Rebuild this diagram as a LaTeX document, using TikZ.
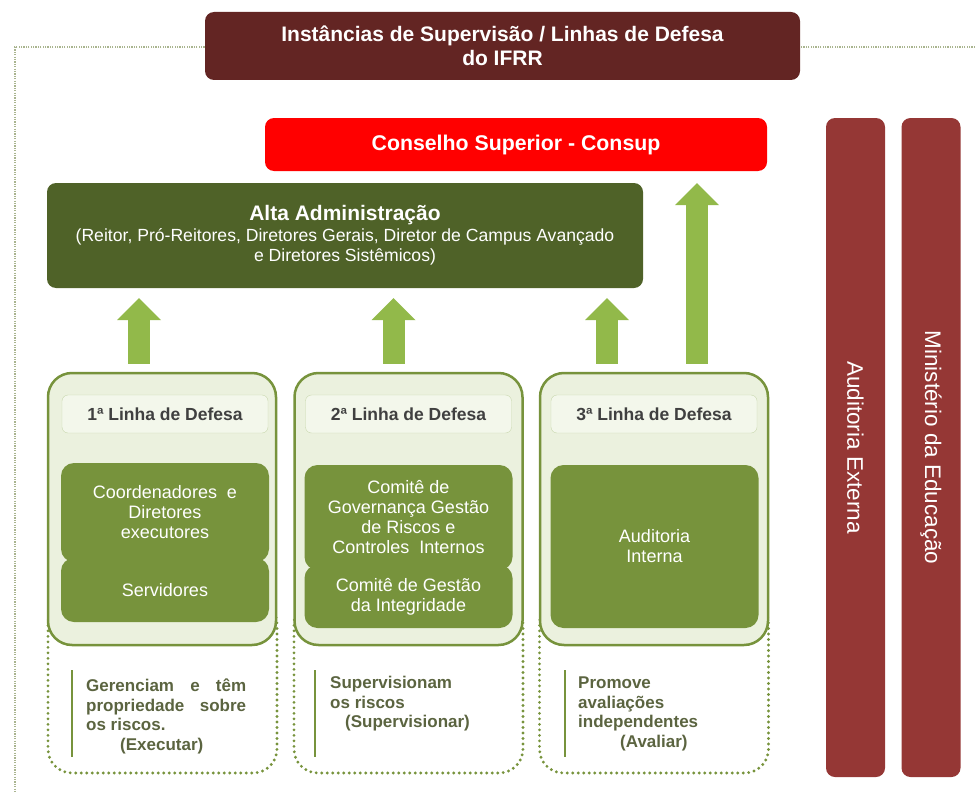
\documentclass[tikz,border=0pt]{standalone}
\usepackage{fontspec}
\setmainfont{Liberation Sans}
\usetikzlibrary{arrows.meta}

\definecolor{vinho}{HTML}{632523}
\definecolor{vermelho}{HTML}{FF0000}
\definecolor{verdeescuro}{HTML}{4F6228}
\definecolor{verdemedio}{HTML}{77933C}
\definecolor{verdeclaro}{HTML}{EBF1DE}
\definecolor{verdeborda}{HTML}{C9D8AE}
\definecolor{verdeseta}{HTML}{92B94A}
\definecolor{tijolo}{HTML}{953735}
\definecolor{cinza}{HTML}{404040}
\definecolor{textolinha}{HTML}{5B6440}
\definecolor{moldura}{HTML}{A9B48F}

\newcommand{\tamanho}[2]{\fontsize{#1}{#2}\selectfont}

\begin{document}
\begin{tikzpicture}[x=1pt,y=-1pt,
    caixa/.style={rounded corners=9pt, inner sep=0pt, align=center, text=white},
    painel/.style={draw=verdemedio, line width=2.5pt, fill=verdeclaro, rounded corners=24pt,
      minimum width=228pt, minimum height=272pt, inner sep=0pt},
    pontilhado/.style={draw=verdemedio, line width=3.2pt, line cap=round, dash pattern=on 0pt off 5.5pt,
      rounded corners=24pt, minimum width=229pt, minimum height=173pt, inner sep=0pt},
    cabecalho/.style={draw=verdeborda, fill=verdeclaro!60!white, rounded corners=6pt,
      minimum width=206pt, minimum height=38pt, inner sep=0pt, text=cinza, font=\tamanho{17.5}{20}\bfseries},
    verde/.style={caixa, fill=verdemedio, rounded corners=13pt, minimum width=208pt, font=\tamanho{18}{20}},
    texto/.style={anchor=north west, inner sep=0pt, align=left, text=textolinha, font=\tamanho{17}{19.5}\bfseries},
    barra/.style={draw=verdemedio, line width=2.5pt},
    seta/.style={draw=verdeseta, line width=22pt, -{Triangle[width=44pt,length=22pt,line width=0pt]},
      shorten <=8pt}]

  \useasboundingbox (0,0) rectangle (975,792);

  % moldura
  \draw[moldura, line width=1.2pt, dash pattern=on 1.2pt off 1.2pt] (975,47) -- (15,47) -- (15,792);

  % topo
  \node[caixa, fill=vinho, minimum width=595pt, minimum height=68pt, font=\tamanho{21}{24}\bfseries]
    (titulo) at (502.5,46) {Instâncias de Supervisão / Linhas de Defesa\\do IFRR};
  \node[caixa, fill=vermelho, minimum width=502pt, minimum height=53pt, font=\tamanho{21.3}{24}\bfseries]
    (consup) at (516,144.5) {Conselho Superior - Consup};
  \node[caixa, fill=verdeescuro, minimum width=596pt, minimum height=105pt, font=\tamanho{17.6}{20.5}]
    (alta) at (345,235.5) {{\tamanho{21}{28}\bfseries Alta Administração}\\(Reitor, Pró-Reitores, Diretores Gerais, Diretor de Campus Avançado\\e Diretores Sistêmicos)};

  % barras laterais
  \node[caixa, fill=tijolo, rotate=-90, minimum width=659pt, minimum height=59pt, font=\tamanho{22.5}{26}]
    (audext) at (855.5,447.5) {Auditoria Externa};
  \node[caixa, fill=tijolo, rotate=-90, minimum width=659pt, minimum height=59pt, font=\tamanho{22.5}{26}]
    (mec) at (931,447.5) {Ministério da Educação};

  % caixas pontilhadas
  \node[pontilhado] (d1) at (162.5,686.5) {};
  \node[pontilhado] (d2) at (408.5,686.5) {};
  \node[pontilhado] (d3) at (654,686.5) {};

  % linhas de defesa
  \node[painel] (p1) at (162,509) {};
  \node[painel] (p2) at (408.5,509) {};
  \node[painel] (p3) at (654,509) {};

  \node[cabecalho] (h1) at (165,414) {1ª Linha de Defesa};
  \node[cabecalho] (h2) at (408.5,414) {2ª Linha de Defesa};
  \node[cabecalho] (h3) at (654,414) {3ª Linha de Defesa};

  \node[verde, minimum height=99pt] (a1) at (165,512.5) {Coordenadores\ \ e\\Diretores\\executores};
  \node[verde, minimum height=64pt] (b1) at (165,590) {Servidores};
  \node[verde, minimum height=105pt] (a2) at (408.5,517.5) {Comitê de\\Governança\ Gestão\\de Riscos\ e\\Controles\ \ Internos};
  \node[verde, minimum height=63pt] (b2) at (408.5,596.5) {Comitê de Gestão\\da Integridade};
  \node[verde, minimum height=163pt] (a3) at (654.5,546.5) {Auditoria\\Interna};

  % textos
  \node[texto] (t1) at (86,679) {\makebox[160pt][s]{Gerenciam e têm}\\\makebox[160pt][s]{propriedade sobre}\\os riscos.\\\hspace*{34pt}(Executar)};
  \node[texto] (t2) at (330,676) {Supervisionam\\os riscos\\\hspace*{15pt}(Supervisionar)};
  \node[texto] (t3) at (578,677) {Promove\\avaliações\\independentes\\\hspace*{42pt}(Avaliar)};

  \draw[barra] (72,670) -- (72,757);
  \draw[barra] (315,670) -- (315,757);
  \draw[barra] (565,670) -- (565,757);

  % setas
  \coordinate (s1) at ([xshift=-23pt]p1.north);
  \coordinate (s2) at ([xshift=-15pt]p2.north);
  \coordinate (s3) at ([xshift=-47pt]p3.north);
  \coordinate (s4) at ([xshift=43pt]p3.north);
  \draw[seta, shorten >=10pt] (s1) -- (s1 |- alta.south);
  \draw[seta, shorten >=10pt] (s2) -- (s2 |- alta.south);
  \draw[seta, shorten >=10pt] (s3) -- (s3 |- alta.south);
  \draw[seta, shorten >=12pt] (s4) -- (s4 |- consup.south);

\end{tikzpicture}
\end{document}
